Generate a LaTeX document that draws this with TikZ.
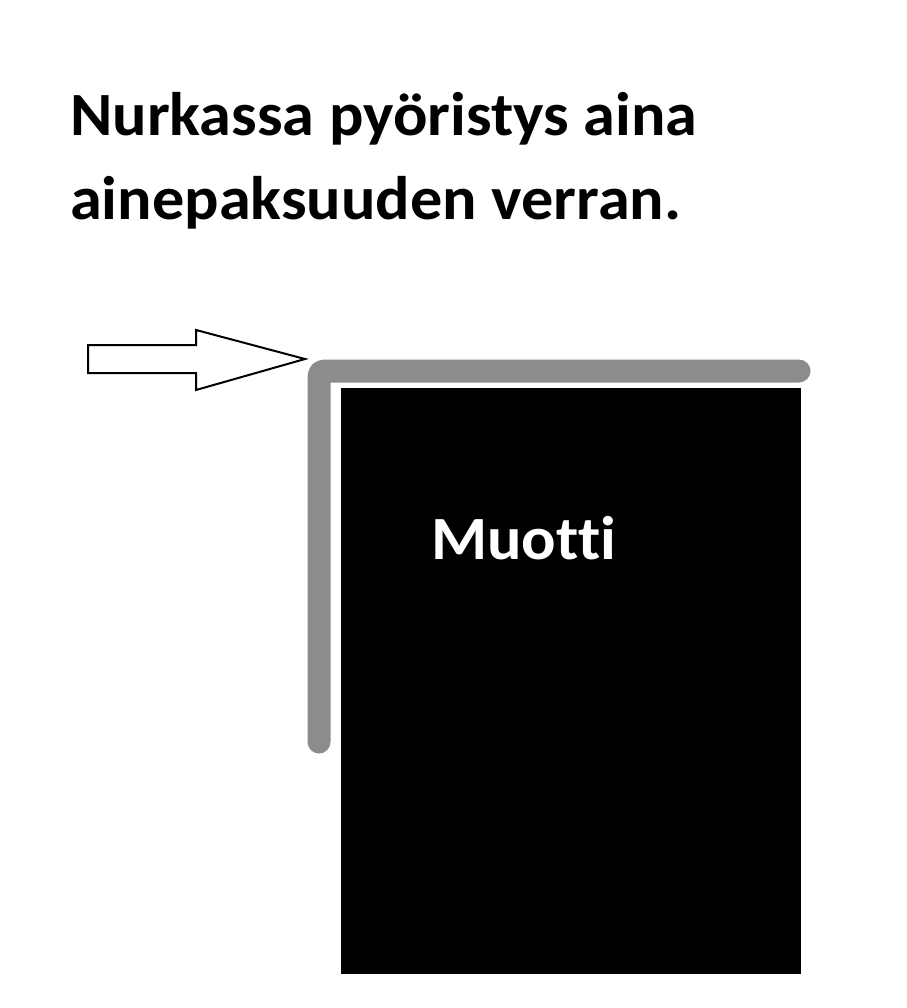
\documentclass[tikz,border=0pt]{standalone}
\usepackage{fontspec}
\setmainfont{Carlito}[Ligatures=NoCommon, FakeStretch=1.045]
\definecolor{profgray}{RGB}{140,140,140}
\tikzset{
  heading/.style={font=\bfseries\fontsize{61.5}{74}\selectfont, anchor=base west, inner sep=0pt},
  mould/.style={fill=black, draw=none},
  label/.style={font=\bfseries\fontsize{61.5}{74}\selectfont, text=white, anchor=base west, inner sep=0pt},
  profile/.style={draw=profgray, line width=23pt, line cap=round, line join=round, rounded corners=5pt},
  blockarrow/.style={draw=black, fill=white, line width=2pt, line join=miter},
}
\begin{document}
\begin{tikzpicture}[x=1pt,y=-1pt]
\useasboundingbox (0,0) rectangle (906,1008);
\node[heading] (t1) at (70,136) {Nurkassa pyöristys aina};
\node[heading] (t2) at (70,219) {ainepaksuuden verran.};
\fill[mould] (341,388) rectangle (801,974);
\node[label] (m) at (431,559) {Muotti};
\coordinate (pe) at (319,742);
\coordinate (pc) at (319,371);
\coordinate (pr) at (799,371);
\draw[profile] (pe) -- (pc) -- (pr);
\draw[blockarrow] (88,345) -- (196,345) -- (196,330) -- (305,359) -- (196,390) -- (196,373) -- (88,373) -- cycle;
\end{tikzpicture}
\end{document}
